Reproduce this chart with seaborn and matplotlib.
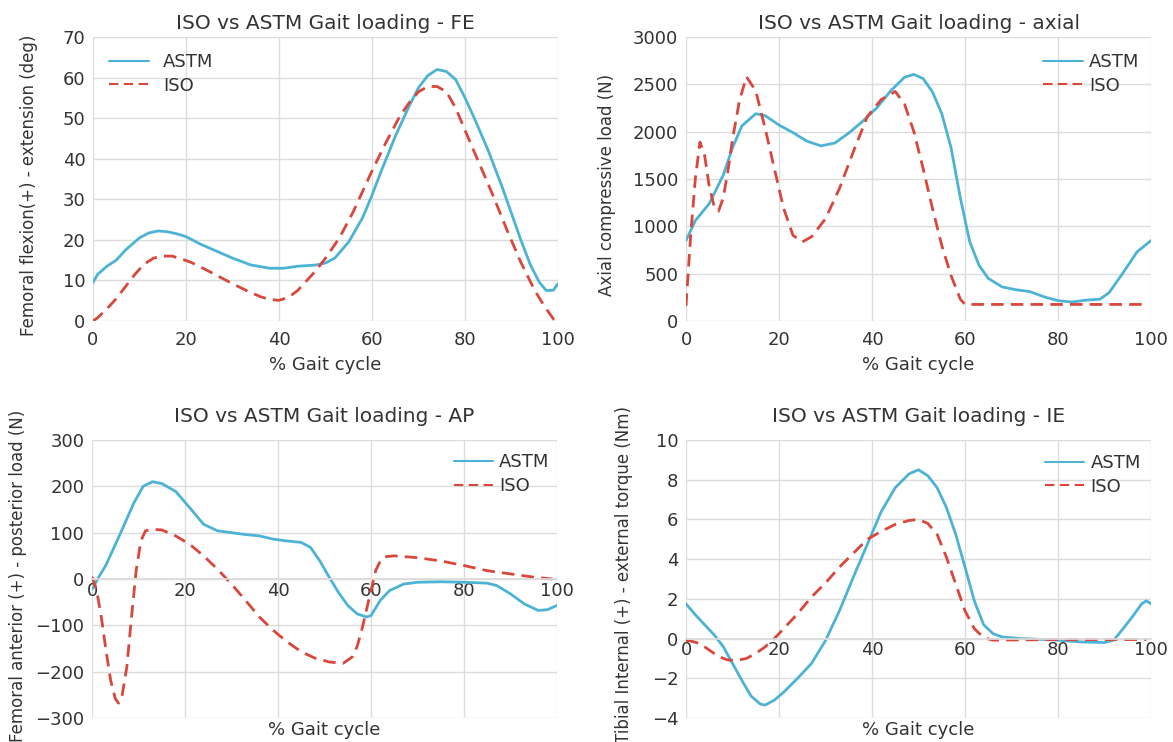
import matplotlib
matplotlib.use("Agg")
import matplotlib.pyplot as plt
import seaborn as sns

# ---------------- data ----------------
# FE panel
fe_astm_x = [0, 1, 3, 5, 7, 10, 12, 14, 16, 18, 20, 23, 26, 30, 34, 38, 41, 44, 48, 50, 52, 55, 58, 60, 62, 65, 68, 70, 72, 74, 76, 78, 80, 82, 85, 88, 90, 92, 94, 96, 97.5, 99, 100]
fe_astm_y = [9.5, 11.5, 13.5, 15, 17.5, 20.5, 21.7, 22.2, 22, 21.5, 20.8, 19, 17.5, 15.5, 13.8, 13, 13, 13.5, 13.8, 14.3, 15.5, 19.5, 25.5, 31, 37, 45.5, 53, 57.5, 60.5, 62, 61.5, 59.5, 55, 50, 42, 33, 26.5, 20, 14, 9.5, 7.5, 7.6, 9.2]
fe_iso_x = [0, 1, 3, 5, 7, 9, 11, 13, 15, 17, 19, 21, 24, 27, 30, 33, 36, 38, 40, 42, 44, 46, 48, 50, 53, 56, 60, 63, 66, 68, 70, 72, 74, 76, 78, 80, 83, 86, 89, 92, 95, 97, 99, 100]
fe_iso_y = [0, 0.8, 3, 5.5, 8.5, 11.5, 14, 15.5, 16, 16, 15.3, 14.5, 12.8, 11, 9.2, 7.5, 6, 5.3, 5.1, 5.8, 7.5, 10, 12.5, 15.5, 20.5, 27, 37, 44, 50.5, 53.8, 56.5, 57.8, 57.8, 56.5, 52.5, 47, 39, 31, 22.5, 14.5, 7.5, 3.8, 0.5, -0.5]

# axial panel
ax_astm_x = [0, 2, 5, 8, 10, 12, 15, 17, 20, 23, 26, 29, 32, 35, 38, 41, 44, 47, 49, 51, 53, 55, 57, 59, 61, 63, 65, 68, 71, 74, 77, 80, 83, 86, 89, 91, 94, 97, 100]
ax_astm_y = [850, 1060, 1240, 1540, 1830, 2060, 2190, 2170, 2070, 1990, 1900, 1850, 1880, 1985, 2110, 2250, 2430, 2575, 2605, 2560, 2420, 2190, 1830, 1300, 840, 590, 450, 360, 330, 310, 255, 215, 200, 220, 230, 300, 510, 730, 850]
ax_iso_x = [0, 1, 2, 3, 4, 5, 6, 7, 8, 9, 10, 11.5, 13, 15, 17, 19, 21, 23, 25, 27, 30, 33, 36, 39, 42, 45, 47, 49, 51, 53, 55, 57, 59, 60, 70, 80, 90, 99]
ax_iso_y = [160, 900, 1500, 1890, 1750, 1420, 1220, 1160, 1300, 1580, 1920, 2330, 2580, 2430, 2040, 1610, 1190, 905, 835, 890, 1080, 1400, 1790, 2160, 2340, 2425, 2290, 2000, 1610, 1190, 800, 480, 230, 175, 175, 175, 175, 175]

# AP panel
ap_astm_x = [0, 1.5, 3, 6, 9, 11, 13, 15, 18, 21, 24, 27, 30, 33, 36, 39, 42, 45, 47, 49, 51, 53, 55, 57, 59, 60, 62, 64, 67, 70, 75, 80, 85, 87, 90, 93, 96, 98, 100]
ap_astm_y = [-22, 5, 30, 96, 164, 200, 210, 206, 189, 154, 118, 104, 100, 96, 93, 86, 82, 79, 68, 39, 4, -29, -57, -75, -82, -79, -46, -25, -11, -7, -6, -7, -9, -14, -32, -54, -68, -66, -57]
ap_iso_x = [0, 1, 2, 3, 4, 5, 5.7, 6.5, 7.5, 8.5, 9.5, 10.5, 11.5, 13, 15, 18, 21, 24, 27, 30, 33, 36, 39, 42, 45, 48, 51, 54, 56, 57, 58, 59, 60, 61, 62, 63, 65, 70, 75, 80, 85, 90, 95, 99]
ap_iso_y = [5, -25, -82, -153, -218, -258, -268, -250, -189, -82, 18, 82, 104, 107, 106, 93, 75, 50, 21, -11, -46, -82, -111, -136, -157, -171, -179, -182, -168, -146, -111, -68, -25, 18, 39, 48, 50, 46, 39, 29, 18, 11, 4, 0]

# IE panel
ie_astm_x = [0, 2, 4, 6, 8, 10, 12, 14, 16, 17, 19, 21, 24, 27, 30, 33, 36, 39, 42, 45, 48, 50, 52, 54, 56, 58, 60, 62, 64, 66, 68, 72, 80, 85, 90, 92, 94, 96, 98, 99, 100]
ie_astm_y = [1.75, 1.2, 0.7, 0.2, -0.4, -1.25, -2.1, -2.9, -3.3, -3.35, -3.1, -2.7, -2.0, -1.25, -0.1, 1.4, 3.1, 4.75, 6.4, 7.6, 8.3, 8.5, 8.2, 7.6, 6.6, 5.25, 3.6, 1.9, 0.7, 0.25, 0.08, 0, -0.08, -0.17, -0.2, -0.08, 0.5, 1.1, 1.75, 1.9, 1.75]
ie_iso_x = [0, 1, 3, 5, 7, 9, 11, 13, 15, 17, 19, 21, 24, 27, 30, 33, 36, 39, 42, 45, 48, 50, 52, 54, 56, 58, 60, 62, 64, 66, 80, 99]
ie_iso_y = [-0.1, -0.12, -0.25, -0.58, -0.9, -1.08, -1.1, -1.0, -0.75, -0.42, 0, 0.5, 1.25, 2.1, 2.8, 3.6, 4.3, 5.0, 5.4, 5.75, 5.95, 6.0, 5.8, 5.25, 4.1, 2.75, 1.4, 0.5, 0.05, -0.08, -0.05, -0.05]

titles = ["ISO vs ASTM Gait loading - FE", "ISO vs ASTM Gait loading - axial",
          "ISO vs ASTM Gait loading - AP", "ISO vs ASTM Gait loading - IE"]
ylabels = ["Femoral flexion(+) - extension (deg)", "Axial compressive load (N)",
           "Femoral anterior (+) - posterior load (N)", "Tibial Internal (+) - external torque (Nm)"]
xlabel = "% Gait cycle"
series_names = ["ASTM", "ISO"]

# ---------------- style ----------------
sns.set_theme(style="whitegrid")
plt.rcParams["font.family"] = ["DejaVu Sans"]
plt.rcParams["axes.unicode_minus"] = True

ASTM_C = "#4db3d4"
ISO_C = "#d9473c"
GRID_C = "#dcdcdc"
TXT = "#333333"

fig = plt.figure(figsize=(11.73, 7.42), dpi=100)
W, H = 1173, 742
def rect(l, r, t, b):
    return [l / W, 1 - b / H, (r - l) / W, (b - t) / H]

axes = [fig.add_axes(rect(93, 558, 37, 321)),
        fig.add_axes(rect(686, 1151, 37, 321)),
        fig.add_axes(rect(92, 557, 440, 718)),
        fig.add_axes(rect(686, 1151, 440, 718))]

data = [
    (fe_astm_x, fe_astm_y, fe_iso_x, fe_iso_y, (0, 70), range(0, 71, 10)),
    (ax_astm_x, ax_astm_y, ax_iso_x, ax_iso_y, (0, 3000), range(0, 3001, 500)),
    (ap_astm_x, ap_astm_y, ap_iso_x, ap_iso_y, (-300, 300), range(-300, 301, 100)),
    (ie_astm_x, ie_astm_y, ie_iso_x, ie_iso_y, (-4, 10), range(-4, 11, 2)),
]
leg_loc = ["upper left", "upper right", "upper right", "upper right"]
leg_anchor = [(0.0, 1.0), (1.01, 1.0), (1.019, 1.01), (1.013, 1.007)]
leg_pad = [0.78, 0.33, 0.33, 0.33]
ylab_xy = [(-0.118, 0.479), (-0.15, 0.48), (-0.14, 0.51), (-0.114, 0.515)]

for i, (ax, (ax_x, ax_y, iso_x, iso_y, ylim, yt)) in enumerate(zip(axes, data)):
    sns.lineplot(x=ax_x, y=ax_y, ax=ax, color=ASTM_C, lw=2.0, label=series_names[0])
    sns.lineplot(x=iso_x, y=iso_y, ax=ax, color=ISO_C, lw=2.0,
                 linestyle=(0, (4.5, 2.6)), label=series_names[1])
    ax.set_xlim(0, 100)
    ax.set_ylim(*ylim)
    ax.set_xticks(range(0, 101, 20))
    ax.set_yticks(list(yt))
    ax.grid(True, color=GRID_C, lw=1.0)
    for s in ax.spines.values():
        s.set_visible(False)
    ax.tick_params(axis="both", length=0, labelsize=13, colors=TXT)
    ax.tick_params(axis="y", pad=5.5)
    ax.tick_params(axis="x", pad=7)
    ax.set_title(titles[i], fontsize=14.5, color=TXT, pad=6 if i < 2 else 13)
    ax.set_ylabel(ylabels[i], fontsize=12, color=TXT)
    ax.set_xlabel(xlabel, fontsize=13, color=TXT, labelpad=5)
    leg = ax.legend(loc=leg_loc[i], frameon=False, fontsize=13, handlelength=2.2,
                    handletextpad=leg_pad[i], labelspacing=0.3,
                    bbox_to_anchor=leg_anchor[i])
    for t in leg.get_texts():
        t.set_color(TXT)
    for h in leg.get_lines():
        h.set_linewidth(1.5)
    if i >= 2:
        ax.spines["bottom"].set_visible(True)
        ax.spines["bottom"].set_position(("data", 0))
        ax.spines["bottom"].set_color(GRID_C)
        ax.xaxis.set_label_coords(0.5, -0.012)
        ax.tick_params(axis="x", pad=2)
    ax.yaxis.set_label_coords(*ylab_xy[i])

fig.savefig("out.png", dpi=100, facecolor="white")
